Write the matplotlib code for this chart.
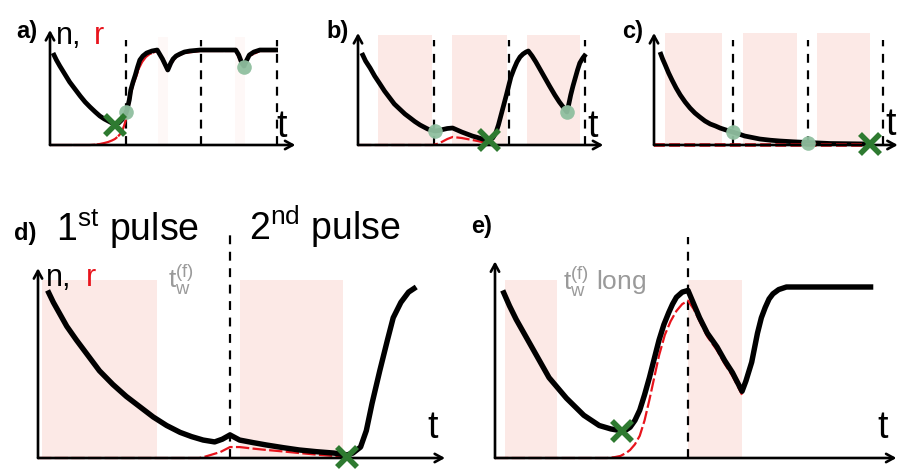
import matplotlib
matplotlib.use("Agg")
import matplotlib.pyplot as plt

plt.rcParams['font.family'] = ['Liberation Sans', 'DejaVu Sans']
plt.rcParams['mathtext.fontset'] = 'custom'
plt.rcParams['mathtext.rm'] = 'Liberation Sans'
plt.rcParams['mathtext.it'] = 'Liberation Sans:italic'
plt.rcParams['mathtext.bf'] = 'Liberation Sans:bold'
plt.rcParams['mathtext.default'] = 'regular'

# ---------------- data (t in pulse periods, n normalised) ----------------
# panel a
a_n_t = [0.04, 0.085, 0.13, 0.195, 0.26, 0.33, 0.40, 0.465, 0.53, 0.60, 0.66, 0.72, 0.77, 0.82, 0.86,
         0.91, 0.95, 0.99, 1.02, 1.05, 1.07, 1.10, 1.13, 1.16, 1.19, 1.23, 1.28, 1.35, 1.42,
         1.49, 1.56, 1.60, 1.63, 1.67, 1.72, 1.78, 1.85, 1.99, 2.46, 2.50, 2.54, 2.57, 2.60,
         2.64, 2.70, 2.78, 3.02]
a_n = [0.92, 0.85, 0.79, 0.71, 0.63, 0.56, 0.49, 0.43, 0.38, 0.33, 0.29, 0.26, 0.24, 0.22, 0.21,
       0.22, 0.25, 0.30, 0.35, 0.45, 0.55, 0.63, 0.70, 0.78, 0.85, 0.89, 0.92, 0.94, 0.95,
       0.86, 0.75, 0.82, 0.86, 0.89, 0.91, 0.93, 0.94, 0.95, 0.95, 0.90, 0.82, 0.79, 0.84,
       0.90, 0.93, 0.95, 0.95]
a_r_t = [0.0, 0.53, 0.60, 0.66, 0.72, 0.77, 0.82, 0.86, 0.90, 0.93, 0.96, 0.98, 1.00, 1.02, 1.045,
         1.07, 1.10, 1.14, 1.18, 1.22, 1.27, 1.32, 1.42, 1.49, 1.56, 1.60, 1.67, 1.78, 1.99,
         2.46, 2.54, 2.57, 2.64, 2.78, 3.02]
a_r = [0.0, 0.0, 0.004, 0.01, 0.02, 0.03, 0.045, 0.06, 0.085, 0.11, 0.15, 0.19, 0.24, 0.30, 0.40,
       0.50, 0.60, 0.68, 0.77, 0.83, 0.88, 0.91, 0.94, 0.85, 0.74, 0.81, 0.88, 0.92, 0.94,
       0.94, 0.81, 0.78, 0.89, 0.94, 0.94]
a_dots_t, a_dots_n = [1.01, 2.57], [0.33, 0.78]
a_cross = (0.86, 0.20)
a_pulses = [(1.43, 1.56), (2.45, 2.58)]
a_dashed = [1.0, 2.0, 3.0]

# panel b
b_n_t = [0.05, 0.10, 0.16, 0.22, 0.29, 0.35, 0.42, 0.48, 0.55, 0.62, 0.69, 0.75, 0.82, 0.87, 0.92,
         0.97, 1.02, 1.07, 1.12, 1.18, 1.25, 1.31, 1.37, 1.44, 1.51, 1.58, 1.64, 1.70, 1.74,
         1.78, 1.82, 1.855, 1.89, 1.925, 1.96, 1.99, 2.02, 2.06, 2.10, 2.14, 2.18, 2.22, 2.25,
         2.30, 2.35, 2.41, 2.47, 2.53, 2.60, 2.66, 2.71, 2.76, 2.785, 2.81, 2.84, 2.87, 2.90,
         2.93, 2.97, 3.01]
b_n = [0.92, 0.84, 0.77, 0.69, 0.61, 0.54, 0.47, 0.41, 0.36, 0.31, 0.27, 0.235, 0.20, 0.18, 0.16,
       0.15, 0.14, 0.145, 0.155, 0.165, 0.17, 0.15, 0.13, 0.11, 0.09, 0.075, 0.06, 0.05, 0.05,
       0.07, 0.12, 0.20, 0.30, 0.40, 0.50, 0.59, 0.68, 0.76, 0.83, 0.88, 0.91, 0.93, 0.94,
       0.89, 0.83, 0.75, 0.67, 0.59, 0.50, 0.43, 0.38, 0.33, 0.41, 0.50, 0.59, 0.67, 0.75,
       0.82, 0.87, 0.91]
b_r_t = [0.0, 0.99, 1.04, 1.08, 1.13, 1.18, 1.25, 1.31, 1.37, 1.44, 1.51, 1.58, 1.64, 1.70, 1.74]
b_r = [0.0, 0.0, 0.01, 0.02, 0.04, 0.06, 0.08, 0.075, 0.07, 0.06, 0.05, 0.04, 0.03, 0.015, 0.0]
b_dots_t, b_dots_n = [1.02, 2.76], [0.14, 0.33]
b_cross = (1.73, 0.05)
b_pulses = [(0.26, 0.98), (1.24, 1.97), (2.23, 2.93)]
b_dashed = [1.0, 2.0, 3.0]

# panel c
c_n_t = [0.08, 0.115, 0.15, 0.195, 0.24, 0.295, 0.35, 0.415, 0.48, 0.545, 0.61, 0.68, 0.75, 0.82,
         0.88, 0.96, 1.05, 1.13, 1.21, 1.31, 1.41, 1.55, 1.68, 1.86, 2.05, 2.35, 2.88]
c_n = [0.93, 0.86, 0.80, 0.72, 0.65, 0.57, 0.50, 0.43, 0.37, 0.32, 0.28, 0.24, 0.21, 0.19,
       0.17, 0.15, 0.13, 0.11, 0.09, 0.075, 0.06, 0.048, 0.04, 0.032, 0.025, 0.015, 0.01]
c_r_t = [0.0, 2.88]
c_r = [0.005, 0.005]
c_dots_t, c_dots_n = [1.05, 2.05], [0.13, 0.025]
c_cross = (2.88, 0.01)
c_pulses = [(0.15, 0.91), (1.19, 1.91), (2.17, 2.88)]
c_dashed = [1.05, 2.05, 3.05]

# panel d
d_n_t = [0.05, 0.08, 0.11, 0.15, 0.20, 0.26, 0.32, 0.39, 0.46, 0.53, 0.60, 0.67, 0.74, 0.80, 0.86,
         0.92, 0.96, 1.00, 1.05, 1.12, 1.19, 1.28, 1.36, 1.45, 1.54, 1.61, 1.64, 1.68, 1.71,
         1.74, 1.78, 1.82, 1.85, 1.89, 1.93, 1.97]
d_n = [0.98, 0.91, 0.85, 0.77, 0.69, 0.60, 0.51, 0.43, 0.36, 0.30, 0.24, 0.19, 0.15, 0.125, 0.105,
       0.094, 0.11, 0.135, 0.105, 0.09, 0.076, 0.06, 0.047, 0.037, 0.029, 0.018, 0.029, 0.064, 0.16,
       0.32, 0.51, 0.69, 0.82, 0.91, 0.97, 1.00]
d_r_t = [0.0, 0.84, 0.87, 0.90, 0.95, 1.00, 1.05, 1.12, 1.19, 1.28, 1.36, 1.45, 1.54, 1.61]
d_r = [0.0, 0.0, 0.008, 0.018, 0.035, 0.064, 0.064, 0.055, 0.047, 0.038, 0.029, 0.02, 0.012, 0.0]
d_cross = (1.61, 0.005)
d_pulses = [(0.02, 0.62), (1.05, 1.59)]
d_dashed = [1.0]

# panel e
e_n_t = [0.04, 0.075, 0.11, 0.155, 0.20, 0.24, 0.28, 0.325, 0.37, 0.415, 0.46, 0.50, 0.54, 0.60,
         0.65, 0.68, 0.70, 0.725, 0.75, 0.775, 0.80, 0.825, 0.85, 0.875, 0.90, 0.92, 0.94, 0.97,
         1.00, 1.03, 1.06, 1.10, 1.15, 1.19, 1.23, 1.28, 1.30, 1.33, 1.36, 1.38, 1.40, 1.42,
         1.44, 1.47, 1.51, 1.58, 1.96]
e_n = [0.98, 0.89, 0.81, 0.72, 0.63, 0.55, 0.47, 0.41, 0.35, 0.30, 0.25, 0.22, 0.19, 0.17,
       0.16, 0.165, 0.18, 0.22, 0.28, 0.37, 0.47, 0.58, 0.69, 0.78, 0.85, 0.90, 0.94, 0.97,
       0.98, 0.90, 0.82, 0.73, 0.65, 0.57, 0.50, 0.39, 0.45, 0.56, 0.73, 0.82, 0.88, 0.93,
       0.96, 0.985, 1.00, 1.00, 1.00]
e_r_t = [0.0, 0.58, 0.62, 0.65, 0.68, 0.70, 0.725, 0.75, 0.775, 0.80, 0.825, 0.85, 0.88, 0.91,
         0.94, 0.97, 1.00, 1.03, 1.06, 1.10, 1.15, 1.19, 1.23, 1.28]
e_r = [0.0, 0.0, 0.005, 0.012, 0.03, 0.047, 0.08, 0.13, 0.22, 0.34, 0.47, 0.60, 0.72, 0.80,
       0.86, 0.90, 0.92, 0.87, 0.80, 0.71, 0.63, 0.55, 0.48, 0.37]
e_cross = (0.66, 0.16)
e_pulses = [(0.05, 0.32), (1.0, 1.28)]
e_dashed = [1.0]

# ---------------- figure ----------------
W, H = 906, 470
fig = plt.figure(figsize=(W / 100, H / 100), dpi=100)
fig.patch.set_facecolor('white')

PINK = '#fce9e6'
RED = '#e8141c'
DOT = '#8fbf9f'
XCOL = '#2e7a30'


def make_panel(ox, oy, sx, sy, x0, x1, y0, y1):
    left = (ox + x0 * sx) / W
    bottom = 1 - (oy - y0 * sy) / H
    ax = fig.add_axes([left, bottom, (x1 - x0) * sx / W, (y1 - y0) * sy / H])
    ax.set_xlim(x0, x1)
    ax.set_ylim(y0, y1)
    ax.axis('off')
    return ax


def draw(ax, xmax, ymax, nt, n, rt, r, pulses, ptop, dashed, dtop, lw, cross, dots=None,
         rdash=(6, 1.5), pulse_alpha=1.0, red_top=False, rlw=1.6):
    for p0, p1 in pulses:
        ax.fill_between([p0, p1], 0, ptop, color=PINK, lw=0, alpha=pulse_alpha, zorder=0)
    for d in dashed:
        ax.plot([d, d], [0, dtop], color='black', lw=1.6, ls=(0, (4.0, 3.4)), zorder=1,
                clip_on=False)
    ax.plot(nt, n, color='black', lw=lw, zorder=3, clip_on=False,
            solid_capstyle='butt', solid_joinstyle='round')
    ax.plot(rt, r, color=RED, lw=rlw, ls=(0, rdash), zorder=3.5 if red_top else 2,
            clip_on=False)
    kw = dict(arrowstyle='->,head_length=0.55,head_width=0.3', lw=1.9, color='black',
              shrinkA=0, shrinkB=0)
    ax.annotate('', xy=(xmax, 0), xytext=(0, 0), arrowprops=kw, annotation_clip=False, zorder=4)
    ax.annotate('', xy=(0, ymax), xytext=(0, 0), arrowprops=kw, annotation_clip=False, zorder=4)
    if dots is not None:
        ax.plot(dots[0], dots[1], 'o', ms=10.5, color=DOT, mec='none', alpha=0.95, zorder=5,
                clip_on=False)
    ax.plot([cross[0]], [cross[1]], 'x', ms=15, mew=4.0, color=XCOL, zorder=6, clip_on=False)


# panel a
ax = make_panel(50, 145, 75.5, 100, -0.1, 3.35, -0.1, 1.2)
draw(ax, 3.25, 1.15, a_n_t, a_n, a_r_t, a_r, a_pulses, 1.08, a_dashed, 1.05, 3.4, a_cross,
     (a_dots_t, a_dots_n), rdash=(10, 0.5), pulse_alpha=0.3)
# panel b
ax = make_panel(358, 145, 75.7, 100, -0.1, 3.35, -0.1, 1.2)
draw(ax, 3.24, 1.12, b_n_t, b_n, b_r_t, b_r, b_pulses, 1.10, b_dashed, 1.05, 3.4, b_cross,
     (b_dots_t, b_dots_n))
# panel c
ax = make_panel(654, 145, 75, 100, -0.1, 3.35, -0.1, 1.2)
draw(ax, 3.25, 1.12, c_n_t, c_n, c_r_t, c_r, c_pulses, 1.12, c_dashed, 1.05, 3.4, c_cross,
     (c_dots_t, c_dots_n), rdash=(3, 1.2), red_top=True, rlw=2.6)
# panel d
ax = make_panel(38, 458, 192, 171, -0.05, 2.2, -0.05, 1.4)
draw(ax, 2.12, 1.11, d_n_t, d_n, d_r_t, d_r, d_pulses, 1.04, d_dashed, 1.32, 3.9, d_cross)
# panel e
ax = make_panel(495, 458, 193, 171, -0.05, 2.15, -0.05, 1.4)
draw(ax, 2.08, 1.15, e_n_t, e_n, e_r_t, e_r, e_pulses, 1.04, e_dashed, 1.29, 3.9, e_cross)


def ftext(x, y, s, **kw):
    fig.text(x / W, 1 - y / H, s, va='baseline', ha='left', **kw)


# panel labels
for lab, x, y in [('a)', 16, 38), ('b)', 326, 38), ('c)', 622, 38),
                  ('d)', 14, 240), ('e)', 471, 233)]:
    ftext(x, y, lab, fontsize=17, fontweight='bold')

# axis labels
ftext(56, 44, 'n,', fontsize=22)
ftext(94, 44, 'r', fontsize=22, color=RED)
ftext(46, 286, 'n,', fontsize=22)
ftext(86, 286, 'r', fontsize=22, color=RED)
for x, y in [(276, 137), (587, 137), (885, 135), (427, 438), (877, 438)]:
    ftext(x, y, 't', fontsize=27)

# pulse titles
ftext(56, 241, '1$^{st}$ pulse', fontsize=27)
ftext(249, 240, '2$^{nd}$ pulse', fontsize=27)

# waiting time annotations
ftext(168, 288, '$t_{w}^{(f)}$', fontsize=19, color='#9a9a9a')
ftext(563, 290, '$t_{w}^{(f)}$ long', fontsize=19, color='#9a9a9a')

fig.savefig('out.png', dpi=100, facecolor='white')
